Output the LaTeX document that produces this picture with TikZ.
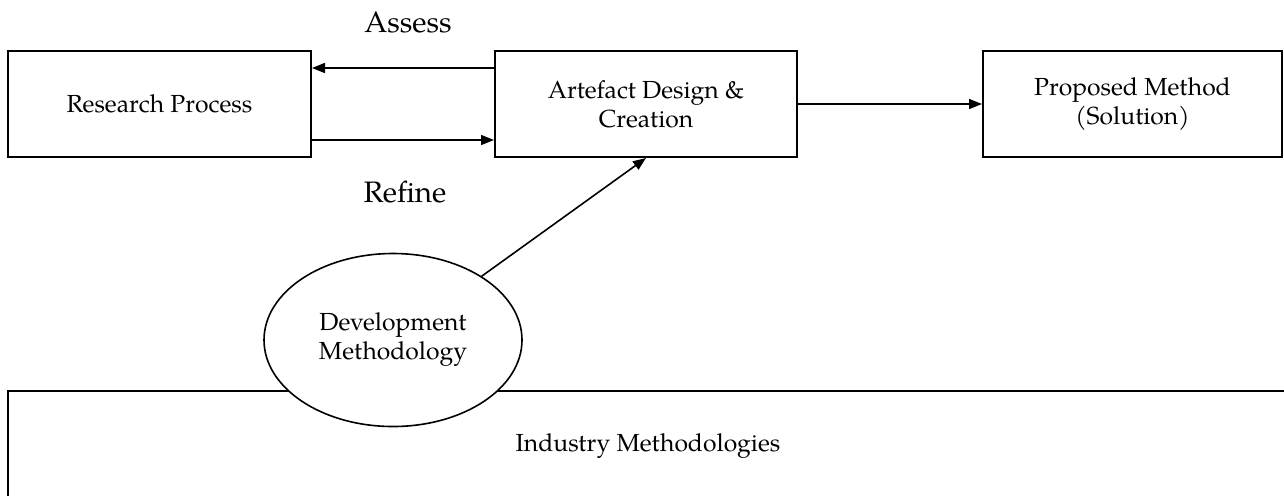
\documentclass[tikz,border=0pt]{standalone}
\usepackage{fontspec}
\setmainfont{TeX Gyre Pagella}
\usetikzlibrary{arrows.meta,shapes.geometric,calc}
\begin{document}
\begin{tikzpicture}[x=0.5pt,y=-0.5pt,
  txt/.style={font=\fontsize{12.35}{14.5}\selectfont,align=center},
  box/.style={txt,draw,line width=1pt,inner sep=0pt,minimum height=53pt},
  lbl/.style={font=\fontsize{14.8}{17}\selectfont,inner sep=0pt},
  arr/.style={line width=0.8pt,-{Triangle[length=6.5pt,width=5pt]}}]
\clip (0,0) rectangle (1284,495);
\fill[white] (0,0) rectangle (1284,495);

% top row of process boxes
\node[box,minimum width=151.5pt] (rp)   at (159.5,104) {Research Process};
\node[box,minimum width=151pt]   (art)  at (646,104)   {Artefact Design \&\\Creation};
\node[box,minimum width=149.5pt] (prop) at (1132.5,104) {Proposed Method\\(Solution)};

% wide base box, running past the page edge
\node[box,minimum width=640pt,minimum height=55pt] (ind) at (648,446) {Industry Methodologies};

% ellipse sits over the base box
\node[txt,draw,fill=white,line width=0.8pt,ellipse,inner sep=0pt,
      minimum width=129pt,minimum height=86.5pt] (dev) at (393,340)
      {Development\\Methodology};

% feedback loop between research and artefact
\coordinate (aout) at ($(art.north west)+(0,18)$);
\coordinate (rout) at ($(rp.south east)+(0,-18)$);
\draw[arr] (aout) -- (aout -| rp.east);
\draw[arr] (rout) -- (rout -| art.west);
\node[lbl] (assess) at (408,22) {Assess};
\node[lbl] (refine) at (405,192) {Refine};

\draw[arr] (art.east) -- (prop.west);
\draw[arr] (dev) -- (art.south);
\end{tikzpicture}
\end{document}
